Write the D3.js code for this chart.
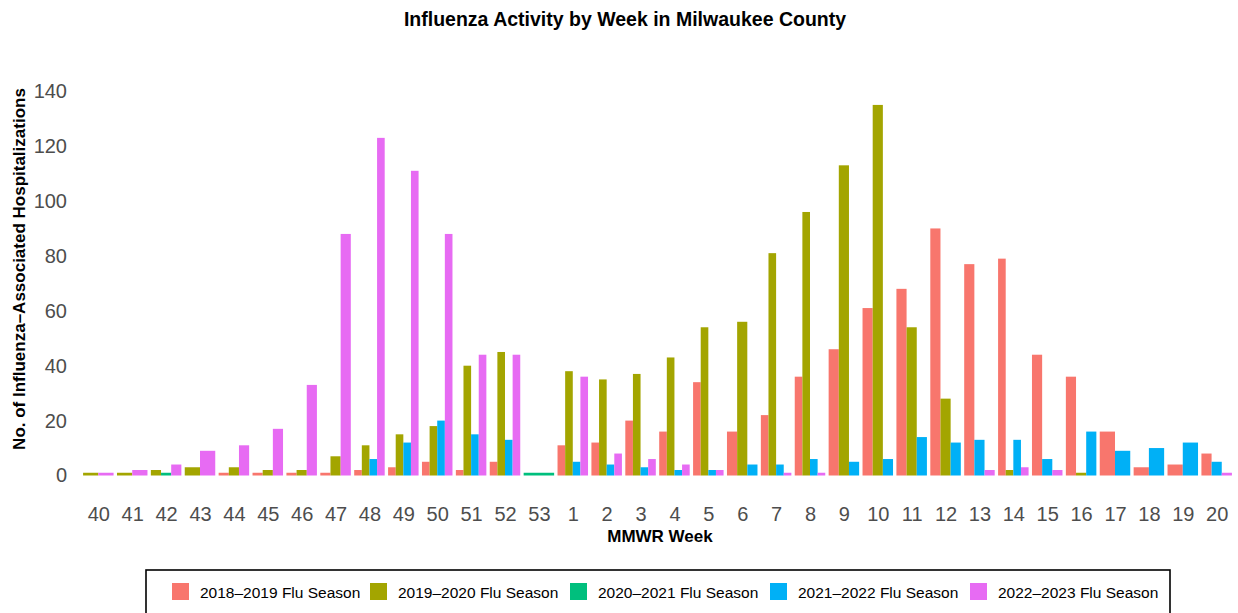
<!DOCTYPE html>
<html><head><meta charset="utf-8">
<script src="https://cdn.jsdelivr.net/npm/d3@7"></script>
<style>body{margin:0;background:#fff}svg{display:block;font-family:"Liberation Sans",Arial,sans-serif}</style>
</head><body><svg id="c" width="1238" height="613"></svg>
<script>
const weeks = ["40","41","42","43","44","45","46","47","48","49","50","51","52","53","1","2","3","4","5","6","7","8","9","10","11","12","13","14","15","16","17","18","19","20"];
const seriesNames = ["2018\u20132019 Flu Season","2019\u20132020 Flu Season","2020\u20132021 Flu Season","2021\u20132022 Flu Season","2022\u20132023 Flu Season"];
const colors = ["#F8766D","#A3A500","#00BF7D","#00B0F6","#E76BF3"];
const s2018 = [null,null,null,null,1,1,1,1,2,3,5,2,5,null,11,12,20,16,34,16,22,36,46,61,68,90,77,79,44,36,16,3,4,8];
const s2019 = [1,1,2,3,3,2,2,7,11,15,18,40,45,null,38,35,37,43,54,56,81,96,113,135,54,28,null,2,null,1,null,null,null,null];
const s2020 = [null,null,1,null,null,null,null,null,null,null,null,null,null,1,null,null,null,null,null,null,null,null,null,null,null,null,null,null,null,null,null,null,null,null];
const s2021 = [null,null,null,null,null,null,null,null,6,12,20,15,13,null,5,4,3,2,2,4,4,6,5,6,14,12,13,13,6,16,9,10,12,5];
const s2022 = [1,2,4,9,11,17,33,88,123,111,88,44,44,null,36,8,6,4,2,null,1,1,null,null,null,null,2,3,2,null,null,null,null,1];
const yTicks = [0,20,40,60,80,100,120,140];
const allSeries = [s2018,s2019,s2020,s2021,s2022];

const svg = d3.select("#c");
const x = d3.scalePoint().domain(weeks).range([78,1237]).padding(0.6);
const bandW = x.step()*0.9;
const y = d3.scaleLinear().domain([0,140]).range([475.5,475.5-140*2.745]);

// bars with dodge (only present series share the slot)
const bars = [];
weeks.forEach((w,wi)=>{
  const present = [];
  allSeries.forEach((s,si)=>{ if(s[wi]!==null) present.push(si); });
  const bw = bandW/present.length;
  present.forEach((si,k)=>{
    bars.push({x0:x(w)-bandW/2+k*bw, w:bw, v:allSeries[si][wi], c:colors[si]});
  });
});
svg.append("g").selectAll("rect").data(bars).join("rect")
  .attr("x",d=>d.x0).attr("width",d=>d.w)
  .attr("y",d=>y(d.v)).attr("height",d=>y(0)-y(d.v))
  .attr("fill",d=>d.c);

// y axis
const ya = svg.append("g").attr("transform","translate(71,0)")
  .call(d3.axisLeft(y).tickValues(yTicks).tickSize(0).tickPadding(4));
ya.select(".domain").remove();
ya.selectAll("text").attr("fill","#4D4D4D").style("font-size","20px").style("font-family","Liberation Sans, Arial, sans-serif");

// x axis
const xa = svg.append("g").attr("transform","translate(0,0)")
  .call(d3.axisBottom(x).tickSize(0));
xa.select(".domain").remove();
xa.selectAll("text").attr("y",520.5).attr("dy",null).attr("fill","#4D4D4D").style("font-size","20px").style("font-family","Liberation Sans, Arial, sans-serif");

// titles
svg.append("text").attr("x",625).attr("y",26).attr("text-anchor","middle")
  .style("font-weight","bold").style("font-size","19.5px").text("Influenza Activity by Week in Milwaukee County");
svg.append("text").attr("transform","translate(25,269) rotate(-90)").attr("text-anchor","middle")
  .style("font-weight","bold").style("font-size","17px").text("No. of Influenza\u2013Associated Hospitalizations");
svg.append("text").attr("x",660).attr("y",542).attr("text-anchor","middle")
  .style("font-weight","bold").style("font-size","17px").text("MMWR Week");

// legend
const lg = svg.append("g");
lg.append("rect").attr("x",146).attr("y",570).attr("width",1024).attr("height",60)
  .attr("fill","none").attr("stroke","#000").attr("stroke-width",1.6);
const keyX = [172,370,570,770,970];
seriesNames.forEach((n,i)=>{
  lg.append("rect").attr("x",keyX[i]).attr("y",583).attr("width",17).attr("height",17).attr("fill",colors[i]);
  lg.append("text").attr("x",keyX[i]+28).attr("y",597.5).style("font-size","15.5px").text(n);
});
</script></body></html>
